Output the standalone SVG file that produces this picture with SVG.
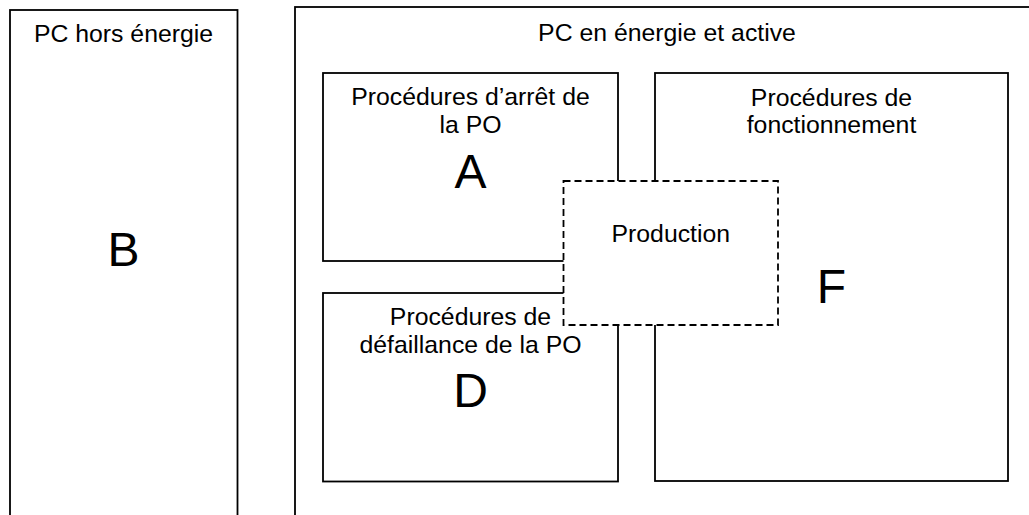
<svg xmlns="http://www.w3.org/2000/svg" width="1029" height="515" viewBox="0 0 1029 515">
<style>
.box{fill:#fff;stroke:#000;stroke-width:1.8}
.dash{fill:#fff;stroke:#000;stroke-width:1.8;stroke-dasharray:7 4}
text{font-family:"Liberation Sans",Arial,sans-serif;fill:#000;text-anchor:middle}
.t{font-size:24.8px}
.big{font-size:48px}
</style>
<rect width="1029" height="515" fill="#fff"/>
<g id="pc-hors-energie">
<rect class="box" x="10" y="10" width="227.5" height="520"/>
<text class="t" x="123.5" y="42">PC hors énergie</text>
<text class="big" x="123.5" y="266">B</text>
</g>
<g id="pc-en-energie">
<rect class="box" x="295" y="7" width="744" height="520"/>
<text class="t" x="667" y="41">PC en énergie et active</text>
</g>
<g id="arret">
<rect class="box" x="323" y="73" width="295" height="188"/>
<text class="t" x="470.5" y="105">Procédures d’arrêt de</text>
<text class="t" x="470.5" y="133">la PO</text>
<text class="big" x="470.5" y="188">A</text>
</g>
<g id="defaillance">
<rect class="box" x="323" y="293" width="295" height="188.5"/>
<text class="t" x="470.5" y="325">Procédures de</text>
<text class="t" x="470.5" y="353">défaillance de la PO</text>
<text class="big" x="470.5" y="407">D</text>
</g>
<g id="fonctionnement">
<rect class="box" x="655" y="73" width="353" height="408"/>
<text class="t" x="831.5" y="106">Procédures de</text>
<text class="t" x="831.5" y="133">fonctionnement</text>
<text class="big" x="831.5" y="303">F</text>
</g>
<g id="production">
<rect class="dash" x="563.5" y="181" width="214.5" height="144"/>
<text class="t" x="670.8" y="242">Production</text>
</g>
<g id="connectors"></g>
</svg>
